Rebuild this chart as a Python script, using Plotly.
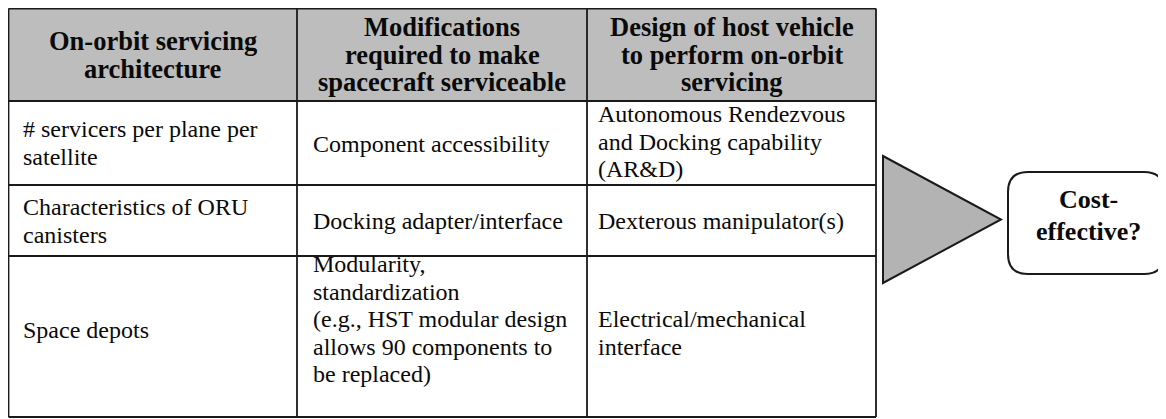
import plotly.graph_objects as go

# ---- data ----
header_texts = [
    ["On-orbit servicing", "architecture"],
    ["Modifications", "required to make", "spacecraft serviceable"],
    ["Design of host vehicle", "to perform on-orbit", "servicing"],
]
row_col1 = [
    ["# servicers per plane per", "satellite"],
    ["Characteristics of ORU", "canisters"],
    ["Space depots"],
]
row_col2 = [
    ["Component accessibility"],
    ["Docking adapter/interface"],
    ["Modularity,", "standardization", "(e.g., HST modular design",
     "allows 90 components to", "be replaced)"],
]
row_col3 = [
    ["Autonomous Rendezvous", "and Docking capability", "(AR&D)"],
    ["Dexterous manipulator(s)"],
    ["Electrical/mechanical", "interface"],
]
result_text = ["Cost-", "effective?"]

# ---- layout geometry (page pixels) ----
col_edges = [8.5, 297, 587, 876]
row_edges = [8.5, 101, 185, 256, 417]
col_left_text = [22, 312, 597]

header_centers = [[41, 68.5], [27, 54.5, 82], [27, 54.5, 82]]
body_centers = {
    (0, 0): [129, 156.5], (0, 1): [144], (0, 2): [114, 141.5, 169],
    (1, 0): [207, 234.5], (1, 1): [221], (1, 2): [221],
    (2, 0): [330], (2, 1): [264, 291.5, 319, 346.5, 374], (2, 2): [319, 346.5],
}

SERIF = "Liberation Serif"
INK = "#0a0a0a"
LINE = dict(color="#1a1a1a", width=1.8)
HEADER_FILL = "#bdbdbd"

fig = go.Figure()

fig.add_shape(type="rect", x0=col_edges[0], x1=col_edges[-1],
              y0=row_edges[0], y1=row_edges[1],
              fillcolor=HEADER_FILL, line=dict(width=0), layer="below")
for y in row_edges:
    fig.add_shape(type="line", x0=col_edges[0], x1=col_edges[-1], y0=y, y1=y, line=LINE)
for x in col_edges:
    fig.add_shape(type="line", x0=x, x1=x, y0=row_edges[0], y1=row_edges[-1], line=LINE)

for c, lines in enumerate(header_texts):
    xc = (col_edges[c] + col_edges[c + 1]) / 2
    for t, yc in zip(lines, header_centers[c]):
        fig.add_annotation(x=xc, y=yc, text="<b>" + t + "</b>", showarrow=False,
                           xanchor="center", yanchor="middle", borderpad=0,
                           font=dict(family=SERIF, size=26.5, color=INK))

cols = [row_col1, row_col2, row_col3]
for c, col in enumerate(cols):
    for r, lines in enumerate(col):
        for t, yc in zip(lines, body_centers[(r, c)]):
            fig.add_annotation(x=col_left_text[c], y=yc, text=t.replace("&", "&amp;"),
                               showarrow=False, xanchor="left", yanchor="middle",
                               borderpad=0,
                               font=dict(family=SERIF, size=24, color=INK))

fig.add_shape(type="path", path="M 883 156 L 1001 219.5 L 883 283 Z",
              fillcolor="#b3b3b3", line=dict(color="#1a1a1a", width=2))

x0, x1, y0, y1, rr = 1008, 1164, 172, 274, 20
path = (f"M {x0+rr} {y0} L {x1-rr} {y0} Q {x1} {y0} {x1} {y0+rr} "
        f"L {x1} {y1-rr} Q {x1} {y1} {x1-rr} {y1} L {x0+rr} {y1} "
        f"Q {x0} {y1} {x0} {y1-rr} L {x0} {y0+rr} Q {x0} {y0} {x0+rr} {y0} Z")
fig.add_shape(type="path", path=path, fillcolor="white",
              line=dict(color="#1a1a1a", width=2))
for t, yc in zip(result_text, [199, 231]):
    fig.add_annotation(x=1088, y=yc, text="<b>" + t + "</b>", showarrow=False,
                       xanchor="center", yanchor="middle", borderpad=0,
                       font=dict(family=SERIF, size=26, color=INK))

# page body has an 8px margin: the figure covers page pixels 8..1166 x 8..419
fig.update_layout(
    width=1158, height=411,
    margin=dict(l=0, r=0, t=0, b=0),
    font=dict(family=SERIF, color=INK),
    paper_bgcolor="white", plot_bgcolor="white",
    xaxis=dict(range=[8, 1166], visible=False, fixedrange=True),
    yaxis=dict(range=[419, 8], visible=False, fixedrange=True),
    showlegend=False,
)

fig.write_html("out.html", config={"displayModeBar": False})
